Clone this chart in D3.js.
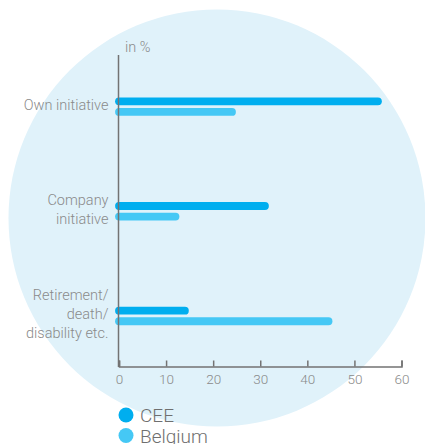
<!DOCTYPE html>
<html>
<head>
<meta charset="utf-8">
<script src="https://cdn.jsdelivr.net/npm/d3@7"></script>
<style>
  html, body { margin: 0; padding: 0; background: #ffffff; }
  svg { display: block; }
  text { font-family: Roboto, "Noto Sans", sans-serif; font-weight: 300; }
</style>
</head>
<body>
<svg id="chart" width="425" height="444"></svg>
<script>
// Reasons for leaving, share of respondents (in %)
const categories = ["Own initiative", "Company initiative", "Retirement/ death/ disability etc."];
const categoryLines = [["Own initiative"], ["Company", "initiative"], ["Retirement/", "death/", "disability etc."]];
const seriesNames = ["CEE", "Belgium"];
const ceeValues = [55, 31, 14];
const belgiumValues = [24, 12, 44.5];
const xTicks = [0, 10, 20, 30, 40, 50, 60];
const unitLabel = "in %";

const colors = { CEE: "#00aeef", Belgium: "#45c8f5" };
const values = { CEE: ceeValues, Belgium: belgiumValues };

const svg = d3.select("#chart");

// Soft background disc
svg.append("circle")
  .attr("cx", 217).attr("cy", 218).attr("r", 208.5)
  .attr("fill", "#e0f2fa");

const x = d3.scaleLinear().domain([0, 60]).range([119, 401.5]);
const y = d3.scaleBand().domain(categories).range([54, 368]);
const sub = d3.scalePoint().domain(seriesNames).range([-5, 5.6]);

const axisColor = "#737373";
const labelColor = "#8a8a8a";

// Bars, drawn as rounded strokes from zero to the value
seriesNames.forEach(s => {
  svg.append("g").selectAll("line")
    .data(categories.map((c, i) => ({ c, v: values[s][i] })))
    .join("line")
    .attr("x1", x(0))
    .attr("x2", d => x(d.v))
    .attr("y1", d => y(d.c) + y.bandwidth() / 2 + sub(s))
    .attr("y2", d => y(d.c) + y.bandwidth() / 2 + sub(s))
    .attr("stroke", colors[s])
    .attr("stroke-width", 7.8)
    .attr("stroke-linecap", "round");
});

// Vertical axis line
svg.append("line")
  .attr("x1", 118.5).attr("x2", 118.5)
  .attr("y1", 55).attr("y2", 367)
  .attr("stroke", axisColor).attr("stroke-width", 1.5);

// Horizontal axis with upward ticks
const xAxis = svg.append("g")
  .attr("transform", "translate(0,366.5)")
  .call(d3.axisBottom(x).tickValues(xTicks).tickSizeInner(-6).tickSizeOuter(-6).tickPadding(8).tickFormat(d3.format("d")));
xAxis.select(".domain").attr("stroke", axisColor).attr("stroke-width", 1.5);
xAxis.selectAll(".tick line").attr("stroke", axisColor).attr("stroke-width", 1.5);
xAxis.selectAll(".tick text")
  .attr("fill", labelColor)
  .style("font-family", "Roboto, 'Noto Sans', sans-serif")
  .style("font-weight", "300")
  .style("font-size", "13.5px");

// Unit label
svg.append("text")
  .attr("x", 125).attr("y", 52)
  .attr("fill", labelColor)
  .style("font-size", "14.5px")
  .text(unitLabel);

// Category labels, right aligned against the axis
const lineHeight = 18.7;
categories.forEach((c, i) => {
  const lines = categoryLines[i];
  const center = y(c) + y.bandwidth() / 2;
  const first = center - (lines.length - 1) * lineHeight / 2 + 3.5;
  const t = svg.append("text")
    .attr("text-anchor", "end")
    .attr("fill", labelColor)
    .style("font-size", "14.5px");
  lines.forEach((ln, k) => {
    t.append("tspan").attr("x", 108.5).attr("y", first + k * lineHeight).text(ln);
  });
});

// Legend
const legend = svg.append("g").selectAll("g")
  .data(seriesNames)
  .join("g")
  .attr("transform", (d, i) => `translate(126,${415 + i * 20.5})`);
legend.append("circle").attr("r", 7.5).attr("fill", d => colors[d]);
legend.append("text")
  .attr("x", 14).attr("y", 7)
  .attr("fill", "#6f6f6f")
  .style("font-size", "19px")
  .text(d => d);
</script>
</body>
</html>
